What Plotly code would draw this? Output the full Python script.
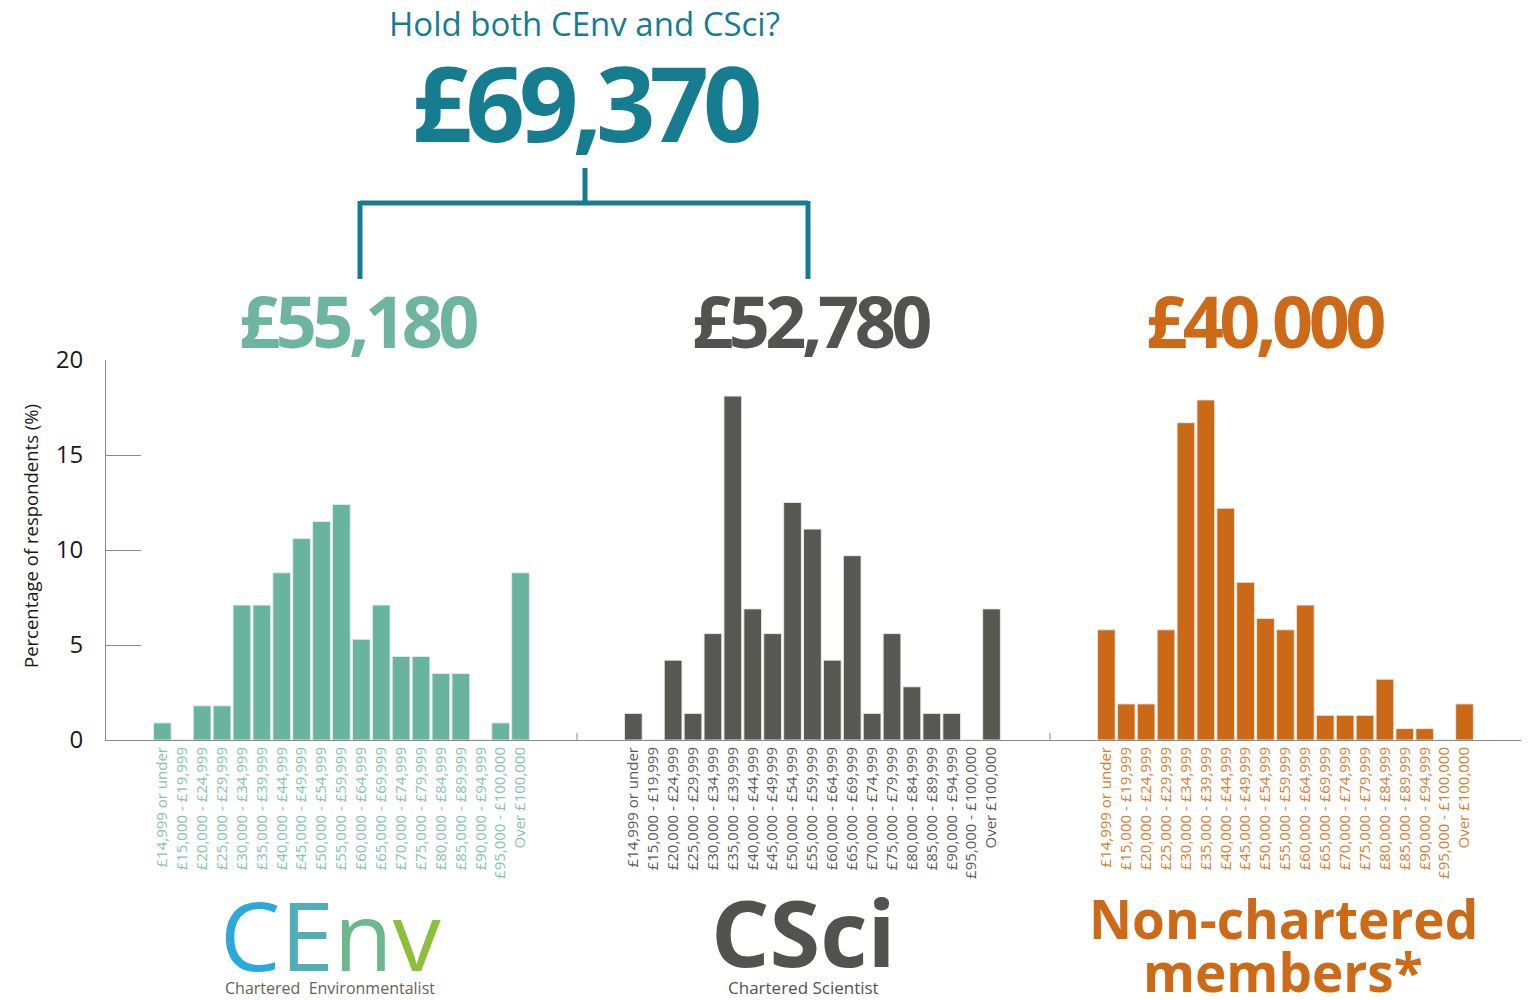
import plotly.graph_objects as go

# ---------------- data ----------------
categories = [
    "£14,999 or under", "£15,000 - £19,999", "£20,000 - £24,999", "£25,000 - £29,999",
    "£30,000 - £34,999", "£35,000 - £39,999", "£40,000 - £44,999", "£45,000 - £49,999",
    "£50,000 - £54,999", "£55,000 - £59,999", "£60,000 - £64,999", "£65,000 - £69,999",
    "£70,000 - £74,999", "£75,000 - £79,999", "£80,000 - £84,999", "£85,000 - £89,999",
    "£90,000 - £94,999", "£95,000 - £100,000", "Over £100,000",
]
cenv_pct = [0.9, 0, 1.8, 1.8, 7.1, 7.1, 8.8, 10.6, 11.5, 12.4, 5.3, 7.1, 4.4, 4.4, 3.5, 3.5, 0, 0.9, 8.8]
csci_pct = [1.4, 0, 4.2, 1.4, 5.6, 18.1, 6.9, 5.6, 12.5, 11.1, 4.2, 9.7, 1.4, 5.6, 2.8, 1.4, 1.4, 0, 6.9]
nonch_pct = [5.8, 1.9, 1.9, 5.8, 16.7, 17.9, 12.2, 8.3, 6.4, 5.8, 7.1, 1.3, 1.3, 1.3, 3.2, 0.6, 0.6, 0, 1.9]

group_names = ["CEnv", "CSci", "Non-chartered"]
group_salaries = ["£55,180", "£52,780", "£40,000"]
both_question = "Hold both CEnv and CSci?"
both_salary = "£69,370"
y_ticks = [0, 5, 10, 15, 20]
y_title = "Percentage of respondents (%)"

# ---------------- styling ----------------
OFF = 8                      # page body margin
W, H = 1529 - OFF, 1000 - OFF
FONT = "Open Sans"
TEAL = "#167C90"
bar_colors = ["#69B49E", "#575852", "#CC6916"]
label_colors = ["#84C4AE", "#5A5A57", "#D57D33"]
salary_colors = ["#6DB59E", "#52534E", "#CC6A17"]


def px(x):
    return (x - OFF) / W


def py(y):
    return 1 - (y - OFF) / H


domains_px = [(106, 577), (577, 1050), (1050, 1522)]
pitch = 19.9

fig = go.Figure()
series = [cenv_pct, csci_pct, nonch_pct]
for i, vals in enumerate(series):
    fig.add_trace(go.Bar(
        x=categories, y=vals, name=group_names[i],
        xaxis="x" if i == 0 else f"x{i+1}", yaxis="y",
        marker=dict(color=bar_colors[i], line=dict(color="rgba(235,235,235,0.9)", width=1)),
        hoverinfo="skip", showlegend=False,
    ))

layout = dict(
    width=W, height=H,
    margin=dict(l=0, r=0, t=0, b=0, autoexpand=False),
    paper_bgcolor="white", plot_bgcolor="white",
    bargap=0.11,
    font=dict(family=FONT, color="#222"),
    yaxis=dict(
        domain=[py(740), py(360)], range=[0, 20], tickvals=y_ticks,
        showgrid=False, zeroline=False, showline=True, linecolor="#8a8a8a", linewidth=1,
        ticks="inside", ticklen=35, tickcolor="#8a8a8a", tickwidth=1,
        tickfont=dict(size=24, color="#1a1a1a", family=FONT), ticklabelstandoff=17,
        anchor="x", automargin=False,
    ),
)
for i, (a, b) in enumerate(domains_px):
    width_units = (b - a) / pitch
    start = -2.83
    key = "xaxis" if i == 0 else f"xaxis{i+1}"
    layout[key] = dict(
        domain=[px(a), px(b)], type="category", range=[start, start + width_units],
        anchor="y", tickangle=-90, showgrid=False, zeroline=False,
        showline=True, linecolor="#8a8a8a", linewidth=1, ticks="", automargin=False,
        tickfont=dict(size=15, color=label_colors[i], family=FONT),
    )
fig.update_layout(**layout)

# separator ticks on x axis
for xs in (577, 1050):
    fig.add_shape(type="line", xref="paper", yref="paper",
                  x0=px(xs), x1=px(xs), y0=py(733), y1=py(741),
                  line=dict(color="#8a8a8a", width=1))

# bracket
for (x0, y0, x1, y1) in [(585, 168, 585, 203), (360, 203, 808, 203), (360, 201, 360, 279), (808, 201, 808, 279)]:
    fig.add_shape(type="line", xref="paper", yref="paper",
                  x0=px(x0), y0=py(y0), x1=px(x1), y1=py(y1),
                  line=dict(color=TEAL, width=5))


def note(x, y, text, size, color=None, **kw):
    d = dict(x=px(x), y=py(y), xref="paper", yref="paper", text=text, showarrow=False,
             font=dict(size=size, family=FONT, **({"color": color} if color else {})),
             xanchor="center", yanchor="middle")
    d.update(kw)
    return d


def tight(t, ls):
    return f"<span style='letter-spacing:{ls}px'><b>{t}</b></span>"


ann = [
    note(584, 24, both_question, 33, TEAL),
    note(585, 102, tight(both_salary, -6), 104, TEAL),
    note(30, 536, y_title, 18.5, "#1a1a1a", textangle=-90),
]
for i, cx in enumerate([358, 811, 1265]):
    ann.append(note(cx, 320, tight(group_salaries[i], -4.5), 72, salary_colors[i]))

# logos
cenv_logo = ("<span style='color:#2BA9DA'>C</span><span style='color:#4FAEB6'>E</span>"
             "<span style='color:#6DB78C'>n</span><span style='color:#8DC03A'>v</span>")
ann.append(note(330, 933, cenv_logo, 96))
ann.append(note(330, 988, "Chartered  Environmentalist", 16, "#6B5F57"))
ann.append(note(803, 931, "<b>CSci</b>", 92, "#52534E"))
ann.append(note(803, 987, "Chartered Scientist", 17, "#52534E"))
ann.append(note(1283, 918, "<b>Non-chartered</b>", 53, "#CC6A17"))
ann.append(note(1283, 971, "<b>members*</b>", 53, "#CC6A17"))
fig.update_layout(annotations=ann)

fig.write_html("out.html")
